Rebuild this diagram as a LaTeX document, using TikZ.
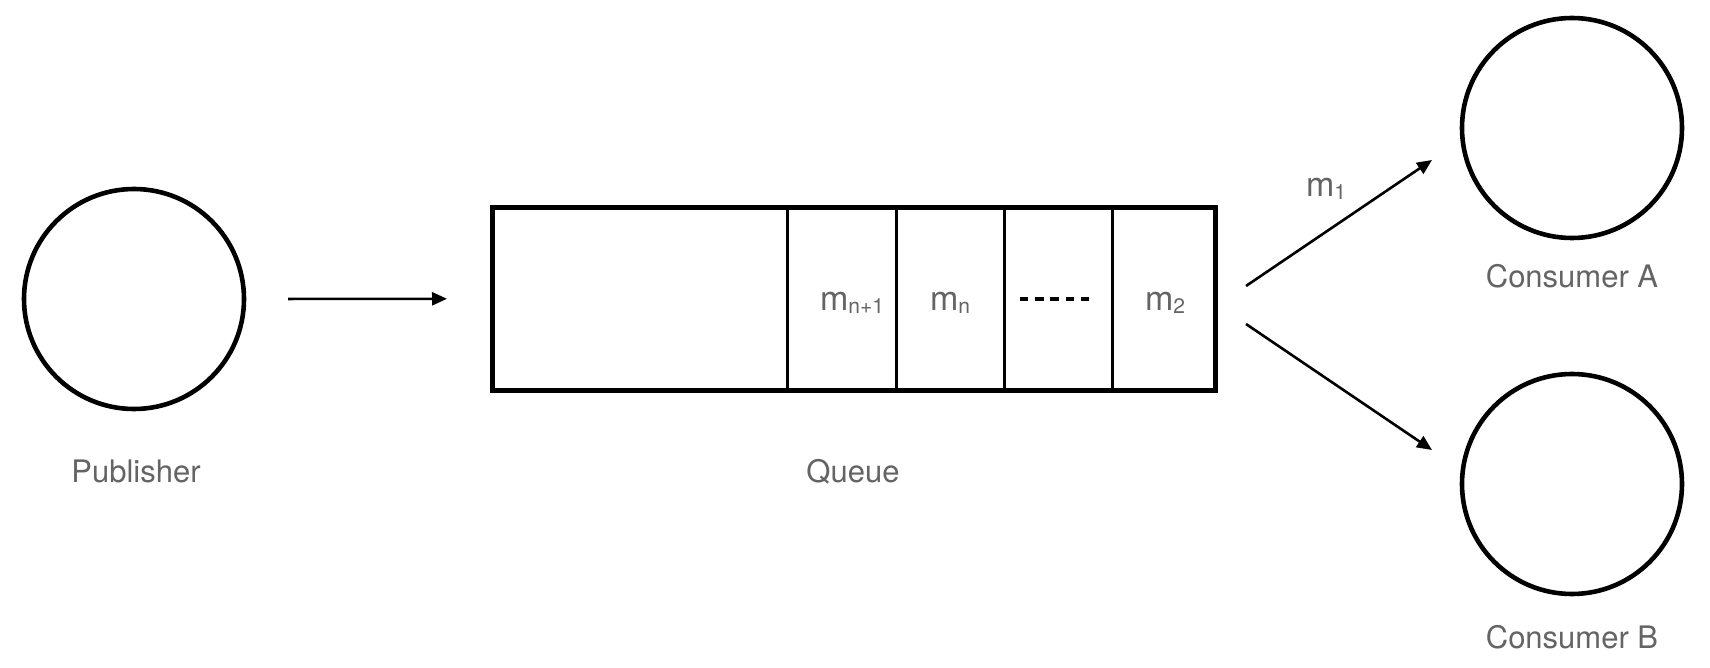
\documentclass[tikz,border=0pt]{standalone}
\usepackage{fontspec}
\setmainfont{TeX Gyre Heros}
\usetikzlibrary{arrows.meta}
\definecolor{labelgray}{RGB}{100,100,100}
\newcommand{\msg}[1]{m\raisebox{-1.4pt}{\fontsize{10.5}{10.5}\selectfont #1}}
\begin{document}
\begin{tikzpicture}[x=0.5pt,y=-0.5pt,
  actor/.style={circle,draw=black,line width=2.3pt,minimum size=110pt,inner sep=0pt,outer sep=0pt},
  qbox/.style={rectangle,draw=black,line width=2.5pt,minimum width=361.25pt,minimum height=91.5pt,inner sep=0pt,outer sep=0pt},
  divider/.style={line width=1.5pt},
  dots/.style={line width=1.7pt,dash pattern=on 4.2pt off 3.4pt},
  flow/.style={line width=1.3pt,-{Triangle[length=7.5pt,width=6.5pt]}},
  lbl/.style={text=labelgray,font=\fontsize{15.5}{18}\selectfont,anchor=base,inner sep=0pt},
  mlbl/.style={text=labelgray,font=\fontsize{17}{20}\selectfont,anchor=base,inner sep=0pt}]
\useasboundingbox (0,0) rectangle (1710,668);

% actors
\node[actor] (pub) at (134,299) {};
\node[actor] (conA) at (1572,128) {};
\node[actor] (conB) at (1572,484) {};

% queue
\node[qbox] (queue) at (853.75,298.75) {};
\draw[divider] (787,207.5) -- (787,390);
\draw[divider] (896,207.5) -- (896,390);
\draw[divider] (1004,207.5) -- (1004,390);
\draw[divider] (1112,207.5) -- (1112,390);
\draw[dots] (1020,299) -- (1090,299);

% message labels in queue
\node[mlbl] (mn1) at (852,311) {\msg{n+1}};
\node[mlbl] (mn) at (950,311) {\msg{n}};
\node[mlbl] (m2) at (1165,311) {\msg{2}};

% labels
\node[lbl] (publbl) at (136,482) {Publisher};
\node[lbl] (qlbl) at (853,482) {Queue};
\node[lbl] (albl) at (1572,288) {Consumer A};
\node[lbl] (blbl) at (1572,648) {Consumer B};

% connectors
\draw[flow,shorten <=22pt,shorten >=22.75pt] (pub.east) -- (queue.west);
\coordinate (outA) at (1246,286);
\coordinate (inA) at (1432,160);
\coordinate (outB) at (1246,324);
\coordinate (inB) at (1432,450);
\draw[flow] (outA) -- (inA);
\draw[flow] (outB) -- (inB);
\node[mlbl] (m1) at (1326,197) {\msg{1}};
\end{tikzpicture}
\end{document}
